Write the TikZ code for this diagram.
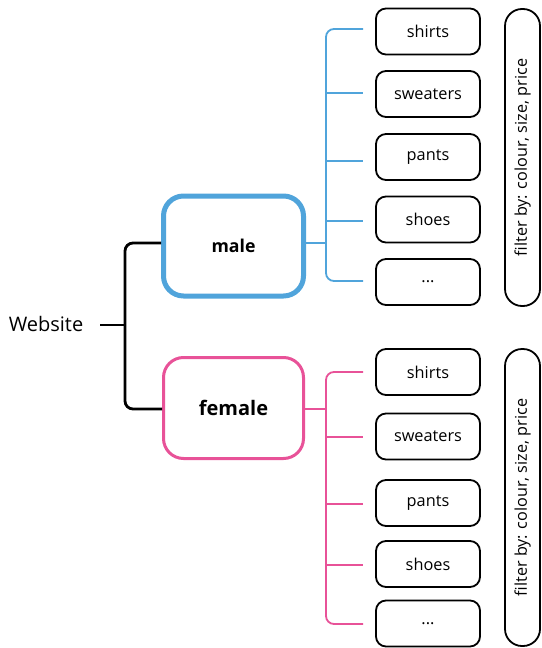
\documentclass[tikz,border=0pt]{standalone}
\usepackage{fontspec}
\setmainfont{Open Sans}
\usetikzlibrary{calc}
\definecolor{mblue}{RGB}{80,164,219}
\definecolor{fpink}{RGB}{232,82,152}
\begin{document}
\begin{tikzpicture}[x=1pt,y=-1pt,
  cat/.style={draw, line width=1.8pt, rounded corners=10pt, minimum width=104pt, minimum height=46pt, inner sep=0pt, font=\fontsize{16.3}{19}\selectfont},
  filt/.style={draw, line width=1.8pt, rounded corners=17pt, minimum width=35pt, minimum height=297pt, inner sep=0pt},
  filttext/.style={rotate=90, font=\fontsize{16.2}{19}\selectfont, inner sep=0pt},
  gbox/.style={rounded corners=20pt, minimum width=140pt, minimum height=100pt, inner sep=0pt, fill=white},
  bl/.style={draw=mblue, line width=1.8pt},
  pk/.style={draw=fpink, line width=1.8pt},
  blk/.style={draw=black, line width=2.8pt}
]
\useasboundingbox (0,0) rectangle (541,648);

% root
\node[font=\fontsize{20}{24}\selectfont, inner sep=0pt] (web) at (46,324) {Website};
\coordinate (wj) at (100,325);
\coordinate (wv) at (125,325);

% groups
\node[gbox, draw=mblue, line width=5pt, font=\bfseries\fontsize{17.7}{21}\selectfont] (male) at (233.5,246) {male};
\node[gbox, draw=fpink, line width=3pt, minimum height=101pt, font=\bfseries\fontsize{20}{24}\selectfont] (female) at (233.5,408) {female};

\draw[blk] (wj) -- (wv);
\draw[blk, rounded corners=8pt] ($(male.west)+(0,-3)$) -| (wv) |- ($(female.west)+(0,1)$);

% male categories
\node[cat] (m1) at (428,31.5) {shirts};
\node[cat] (m2) at (428,94) {sweaters};
\node[cat] (m3) at (428,157) {pants};
\node[cat] (m4) at (428,219.5) {shoes};
\node[cat] (m5) at (428,282) {...};
\node[filt] (mf) at (522.5,157.5) {};
\node[filttext] (mft) at (mf.center) {filter by: colour, size, price};

% female categories
\node[cat] (f1) at (428,372) {shirts};
\node[cat] (f2) at (428,436.5) {sweaters};
\node[cat] (f3) at (428,503) {pants};
\node[cat] (f4) at (428,564) {shoes};
\node[cat] (f5) at (428,623.5) {...};
\node[filt] (ff) at (522.5,497.5) {};
\node[filttext] (fft) at (ff.center) {filter by: colour, size, price};

% male connectors
\coordinate (mb1) at (363,29);
\coordinate (mb2) at (363,93);
\coordinate (mb3) at (363,161);
\coordinate (mb4) at (363,221);
\coordinate (mb5) at (363,281);
\coordinate (mv) at (326,243);
\draw[bl] ($(male.east)+(0,-3)$) -- (mv);
\draw[bl, rounded corners=8pt] (mb1) -| (mv) |- (mb5);
\foreach \i in {2,3,4} \draw[bl] (mv |- mb\i) -- (mb\i);

% female connectors
\coordinate (fb1) at (363,372);
\coordinate (fb2) at (363,437);
\coordinate (fb3) at (363,504);
\coordinate (fb4) at (363,565);
\coordinate (fb5) at (363,624);
\coordinate (fv) at (326,409);
\draw[pk] ($(female.east)+(0,1)$) -- (fv);
\draw[pk, rounded corners=8pt] (fb1) -| (fv) |- (fb5);
\foreach \i in {2,3,4} \draw[pk] (fv |- fb\i) -- (fb\i);
\end{tikzpicture}
\end{document}
